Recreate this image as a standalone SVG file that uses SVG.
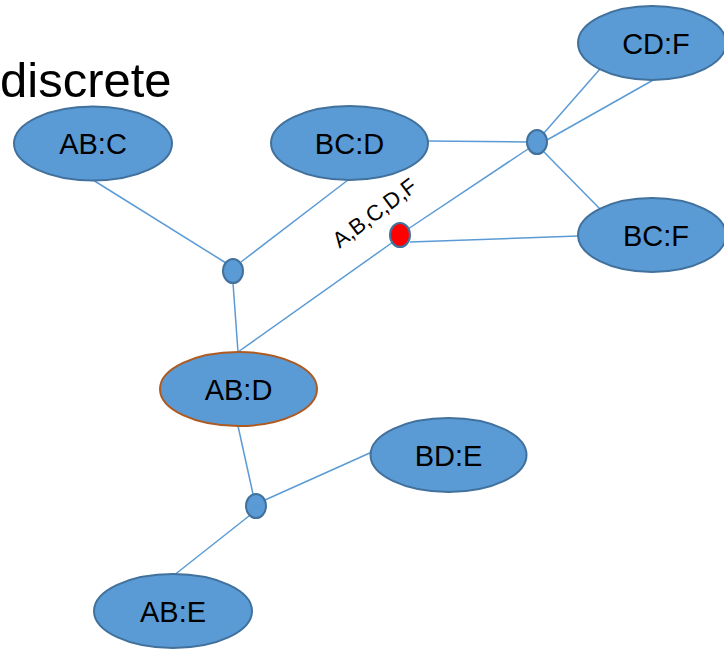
<svg xmlns="http://www.w3.org/2000/svg" width="724" height="649" viewBox="0 0 724 649">
  <style>
    .edge { stroke: #5B9BD5; stroke-width: 1.5; fill: none; }
    .node { fill: #5B9BD5; stroke: #41719C; stroke-width: 2; }
    .hub { fill: #5B9BD5; stroke: #41719C; stroke-width: 2; }
    .label { font-family: "Liberation Sans", Arial, sans-serif; font-size: 29px; fill: #000; text-anchor: middle; }
  </style>
  <rect width="724" height="649" fill="#fff"/>
  <text x="0" y="97" font-family="Liberation Sans, Arial, sans-serif" font-size="49" fill="#000">discrete</text>

  <g id="connectors">
    <line class="edge" x1="93" y1="180" x2="226" y2="263"/>
    <line class="edge" x1="348" y1="180" x2="241" y2="262"/>
    <line class="edge" x1="233" y1="283" x2="238" y2="352"/>
    <line class="edge" x1="238" y1="352" x2="393" y2="242"/>
    <line class="edge" x1="408" y1="229" x2="528" y2="149"/>
    <line class="edge" x1="410" y1="242" x2="578" y2="236"/>
    <line class="edge" x1="428" y1="141" x2="527" y2="142"/>
    <line class="edge" x1="544" y1="133" x2="600" y2="69"/>
    <line class="edge" x1="547" y1="140" x2="655" y2="79"/>
    <line class="edge" x1="544" y1="152" x2="600" y2="209"/>
    <line class="edge" x1="238" y1="426" x2="253" y2="494"/>
    <line class="edge" x1="265" y1="500" x2="372" y2="452"/>
    <line class="edge" x1="249" y1="516" x2="173" y2="576"/>
  </g>

  <g id="node-ABC"><ellipse class="node" cx="93" cy="143.5" rx="79" ry="37"/><text class="label" x="93" y="154">AB:C</text></g>
  <g id="node-BCD"><ellipse class="node" cx="349.5" cy="143" rx="78.5" ry="37"/><text class="label" x="349.5" y="154">BC:D</text></g>
  <g id="node-CDF"><ellipse class="node" cx="652" cy="43" rx="74" ry="37"/><text class="label" x="656" y="54">CD:F</text></g>
  <g id="node-BCF"><ellipse class="node" cx="652" cy="235" rx="74" ry="37"/><text class="label" x="656" y="246">BC:F</text></g>
  <g id="node-ABD"><ellipse class="node" cx="238.5" cy="389" rx="78.5" ry="37" style="stroke:#AE5A21"/><text class="label" x="238.5" y="400">AB:D</text></g>
  <g id="node-BDE"><ellipse class="node" cx="448.5" cy="455" rx="78" ry="37"/><text class="label" x="448.5" y="466">BD:E</text></g>
  <g id="node-ABE"><ellipse class="node" cx="173" cy="611" rx="79" ry="37"/><text class="label" x="173" y="622">AB:E</text></g>

  <g id="hub-upper"><ellipse class="hub" cx="233" cy="271" rx="10" ry="12"/></g>
  <g id="hub-right"><ellipse class="hub" cx="537" cy="142" rx="10" ry="12"/></g>
  <g id="hub-lower"><ellipse class="hub" cx="256" cy="506" rx="10" ry="12"/></g>
  <g id="hub-red"><ellipse cx="400" cy="235" rx="10" ry="12" fill="#FF0000" stroke="#41719C" stroke-width="2"/></g>

  <text x="379" y="219" transform="rotate(-37 379 219)" font-family="Liberation Sans, Arial, sans-serif" font-size="22" text-anchor="middle" fill="#000">A,B,C,D,F</text>
</svg>
